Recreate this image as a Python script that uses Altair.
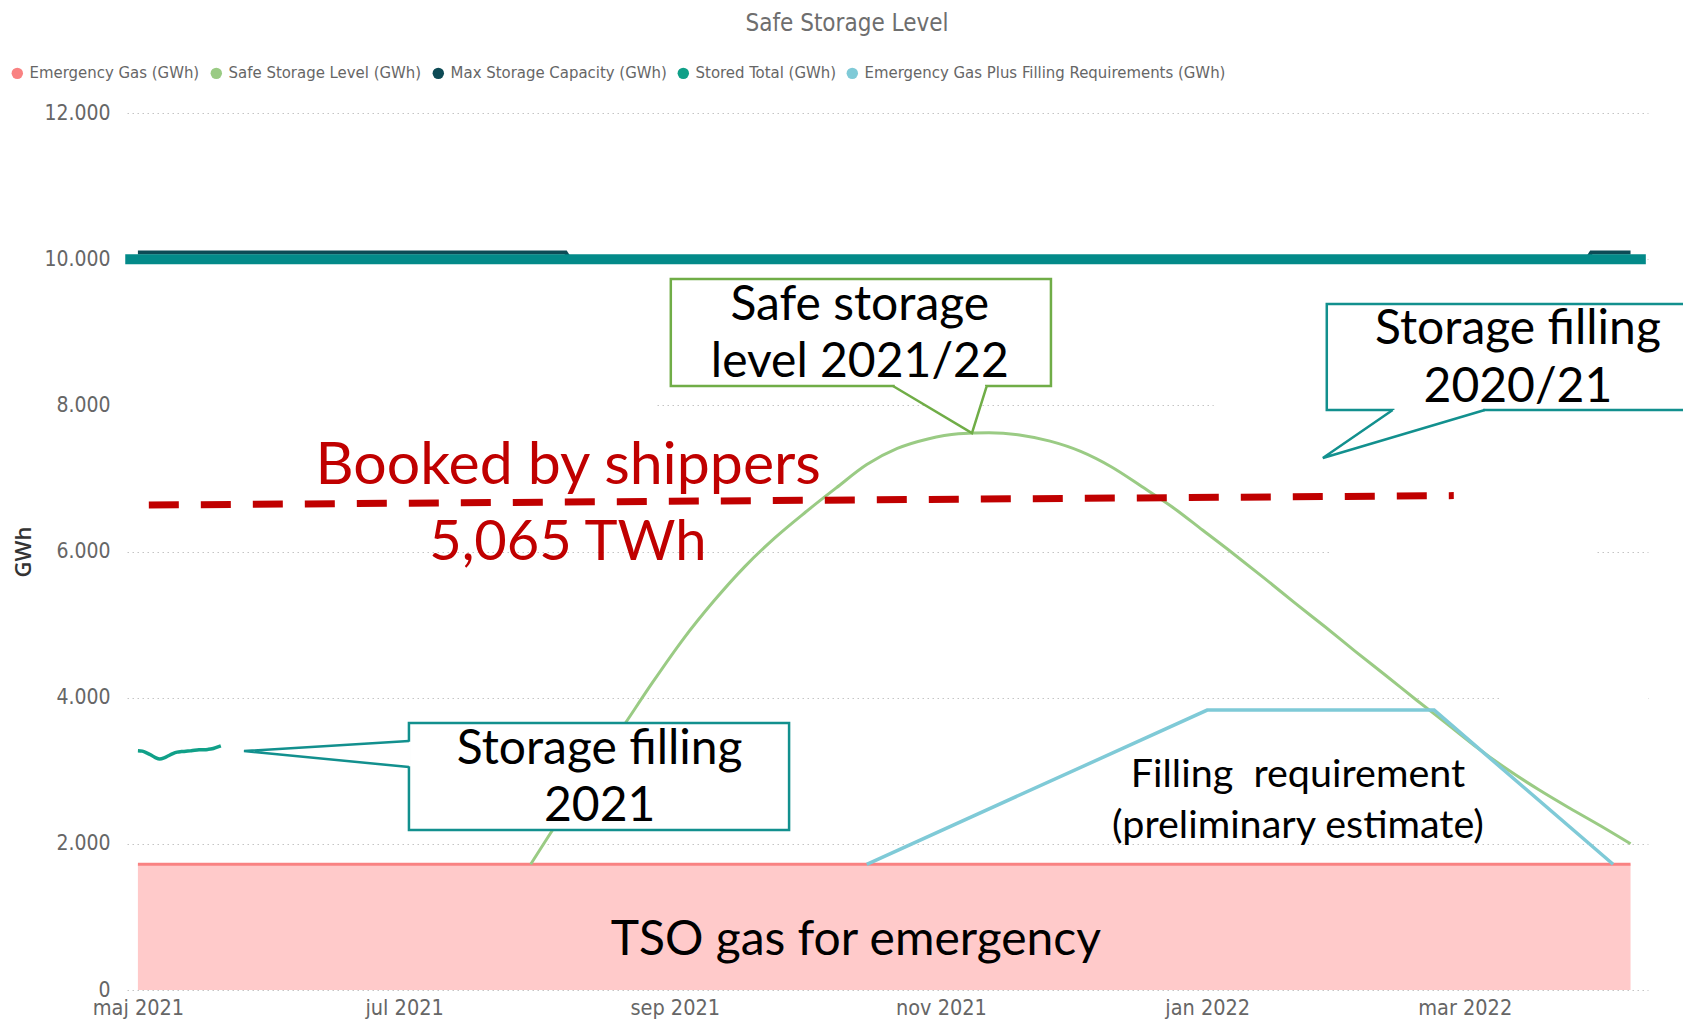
import altair as alt
import pandas as pd

BASE = pd.Timestamp("2021-05-01")


def iso(d):
    return (BASE + pd.Timedelta(days=float(d))).strftime("%Y-%m-%dT%H:%M:%SZ")


NARROW = "DejaVu Sans Condensed, Liberation Sans Narrow, sans-serif"
ANNO = "Lato, Carlito, Open Sans, sans-serif"

# ---------------- data ----------------
series_names = [
    "Emergency Gas (GWh)",
    "Safe Storage Level (GWh)",
    "Max Storage Capacity (GWh)",
    "Stored Total (GWh)",
    "Emergency Gas Plus Filling Requirements (GWh)",
]
series_colors = ["#F98282", "#9ACB84", "#0D4A55", "#10A088", "#7FCAD7"]

emergency_dates = ["2021-05-01", "2022-04-08"]
emergency_values = [1720, 1720]

safe_dates = [
    "2021-07-30", "2021-08-06", "2021-08-13", "2021-08-20", "2021-08-27",
    "2021-09-03", "2021-09-10", "2021-09-17", "2021-09-24", "2021-10-01",
    "2021-10-08", "2021-10-15", "2021-10-22", "2021-10-29", "2021-11-05",
    "2021-11-12", "2021-11-19", "2021-11-26", "2021-12-03", "2021-12-10",
    "2021-12-17", "2021-12-24", "2021-12-31", "2022-01-07", "2022-01-14",
    "2022-01-21", "2022-01-28", "2022-02-04", "2022-02-11", "2022-02-18",
    "2022-02-25", "2022-03-04", "2022-03-11", "2022-03-18", "2022-03-25",
    "2022-04-01", "2022-04-08",
]
safe_values = [
    1720, 2370, 2980, 3590, 4215,
    4805, 5325, 5790, 6190, 6540,
    6870, 7190, 7410, 7540, 7610,
    7625, 7595, 7510, 7370, 7160,
    6890, 6610, 6290, 5970, 5640,
    5300, 4970, 4630, 4300, 3965,
    3640, 3310, 3010, 2740, 2490,
    2250, 2000,
]

capacity_dates = ["2021-05-01", "2021-08-07", "2021-08-08", "2022-03-29", "2022-03-30", "2022-04-08"]
capacity_values = [10090, 10090, 10000, 10000, 10090, 10090]

stored_dates = [
    "2021-05-01", "2021-05-02", "2021-05-03", "2021-05-04", "2021-05-05",
    "2021-05-06", "2021-05-07", "2021-05-08", "2021-05-09", "2021-05-10",
    "2021-05-11", "2021-05-12", "2021-05-13", "2021-05-14", "2021-05-15",
    "2021-05-16", "2021-05-17", "2021-05-18", "2021-05-19", "2021-05-20",
]
stored_values = [
    3275, 3268, 3245, 3215, 3180,
    3160, 3175, 3205, 3235, 3255,
    3262, 3268, 3272, 3280, 3286,
    3288, 3292, 3300, 3320, 3340,
]

filling_dates = ["2021-10-15", "2022-01-01", "2022-02-22", "2022-04-04"]
filling_values = [1720, 3830, 3830, 1720]

booked_days = [2.5, 301.5]
booked_values = [6635, 6765]

capacity_band_days = [-2.9, 345.5]
capacity_band_value = 10000

tick_months = [(2021, 5), (2021, 7), (2021, 9), (2021, 11), (2022, 1), (2022, 3)]
y_ticks = [0, 2000, 4000, 6000, 8000, 10000, 12000]

chart_title = ["Safe Storage Level"]

# gridline segments hidden behind pasted white patches (days from 1 May 2021)
mask_start = [-2.5, 246.5, 273.6, 312.5]
mask_end = [118.7, 346.0, 334.3, 346.0]
mask_level = [8000, 8000, 6000, 4000]

# callout boxes (days, GWh)
box_left = [122.1, 272.4, 62.1]
box_right = [209.2, 400.0, 149.2]
box_bottom = [8265, 7936, 2189]
box_top = [9729, 9387, 3653]

# callout texts
callout_lines = ["Safe storage", "level 2021/22", "Storage filling", "2020/21", "Storage filling", "2021"]
callout_days = [165.4, 165.4, 316.2, 316.2, 105.8, 105.8]
callout_values = [9365, 8583, 9037, 8241, 3286, 2509]

note_lines = ["Filling\u00a0 requirement", "(preliminary estimate)"]
note_days = [265.8, 265.8]
note_values = [2942, 2240]

booked_title = ["Booked by shippers"]
booked_title_days = [98.6]
booked_title_values = [7176]
booked_amount = ["5,065 TWh"]
booked_amount_days = [98.5]
booked_amount_values = [6119]

tso_lines = ["TSO gas for emergency"]
tso_days = [164.5]
tso_values = [676]

# ---------------- scales / axes ----------------
XS = alt.Scale(
    type="utc",
    domain=[
        alt.DateTime(year=2021, month=4, date=28, hours=12, utc=True),
        alt.DateTime(year=2022, month=4, date=12, utc=True),
    ],
)
XA = alt.Axis(
    values=[alt.DateTime(year=y, month=m, date=1, utc=True) for y, m in tick_months],
    labelExpr="replace(lower(utcFormat(datum.value, '%b %Y')), 'may', 'maj')",
    grid=False, domain=False, ticks=False, tickSize=0,
    labelPadding=7, labelFont=NARROW, labelFontSize=21.5, labelColor="#666666",
    labelAngle=0, labelFlush=False, labelOverlap=False, title=None,
)
YS = alt.Scale(domain=[0, 12000], nice=False, zero=True)
YA = alt.Axis(
    values=y_ticks,
    labelExpr="replace(format(datum.value, ','), ',', '.')",
    grid=True, gridColor="#C4C4C4", gridDash=[1.5, 3.5], gridWidth=1,
    domain=False, ticks=False, tickSize=0,
    labelPadding=17, labelFont=NARROW, labelFontSize=21, labelColor="#666666",
    title="GWh", titleFont="Open Sans", titleFontSize=22, titleFontWeight=600,
    titleColor="#333333", titleX=-92, titleY=438.5, titleAngle=-90,
)


def xe(f):
    return alt.X(f, type="temporal", scale=XS, axis=XA)


def ye(f):
    return alt.Y(f, type="quantitative", scale=YS, axis=YA)


# ---------------- layers ----------------
mask_df = pd.DataFrame({
    "xs": [iso(d) for d in mask_start], "xe": [iso(d) for d in mask_end],
    "lo": [v - 70 for v in mask_level], "hi": [v + 70 for v in mask_level],
})
mask = alt.Chart(mask_df).mark_rect(color="white").encode(
    x=xe("xs"), x2=alt.X2("xe"), y=ye("lo"), y2=alt.Y2("hi"))

em_df = pd.DataFrame({"date": emergency_dates, "v": emergency_values})
em_area = alt.Chart(em_df).mark_area(color="#FFCACA", opacity=1).encode(x=xe("date"), y=ye("v"))
em_line = alt.Chart(em_df).mark_line(color=series_colors[0], strokeWidth=3).encode(x=xe("date"), y=ye("v"))

safe_df = pd.DataFrame({"date": safe_dates, "v": safe_values})
safe_line = alt.Chart(safe_df).mark_line(color=series_colors[1], strokeWidth=3, interpolate="monotone").encode(
    x=xe("date"), y=ye("v"))

fill_df = pd.DataFrame({"date": filling_dates, "v": filling_values})
fill_line = alt.Chart(fill_df).mark_line(color=series_colors[4], strokeWidth=3.5).encode(x=xe("date"), y=ye("v"))

stored_df = pd.DataFrame({"date": stored_dates, "v": stored_values})
stored_line = alt.Chart(stored_df).mark_line(color=series_colors[3], strokeWidth=3.5, interpolate="monotone").encode(
    x=xe("date"), y=ye("v"))

cap_df = pd.DataFrame({"date": capacity_dates, "v": capacity_values})
cap_line = alt.Chart(cap_df).mark_line(color=series_colors[2], strokeWidth=4).encode(x=xe("date"), y=ye("v"))

band_df = pd.DataFrame({"xs": [iso(capacity_band_days[0])], "xe": [iso(capacity_band_days[1])], "v": [capacity_band_value]})
band = alt.Chart(band_df).mark_rule(color="#038A89", strokeWidth=10).encode(x=xe("xs"), x2=alt.X2("xe"), y=ye("v"))

booked_df = pd.DataFrame({"date": [iso(d) for d in booked_days], "v": booked_values})
booked = alt.Chart(booked_df).mark_line(color="#C00000", strokeWidth=7, strokeDash=[30, 22], strokeCap="butt").encode(
    x=xe("date"), y=ye("v"))

box_df = pd.DataFrame({
    "xs": [iso(d) for d in box_left], "xe": [iso(d) for d in box_right],
    "lo": box_bottom, "hi": box_top,
})
box_green = alt.Chart(box_df.iloc[[0]]).mark_rect(fill="white", stroke="#70AD47", strokeWidth=2.5).encode(
    x=xe("xs"), x2=alt.X2("xe"), y=ye("lo"), y2=alt.Y2("hi"))
box_teal = alt.Chart(box_df.iloc[[1, 2]]).mark_rect(fill="white", stroke="#12908E", strokeWidth=2.5).encode(
    x=xe("xs"), x2=alt.X2("xe"), y=ye("lo"), y2=alt.Y2("hi"))

# pointer triangles: (base a, tip, base b)
p1 = [(173.0, 8265), (191.1, 7621), (194.5, 8265)]
p2 = [(287.5, 7936), (271.5, 7280), (308.6, 7936)]
p3 = [(62.1, 3407), (24.3, 3270), (62.1, 3051)]

pa1 = pd.DataFrame({"date": [iso(p[0]) for p in p1], "lo": [p[1] for p in p1], "hi": [p1[0][1]] * 3})
t_on_tb = p2[1][1] + (p2[0][0] - p2[1][0]) / (p2[2][0] - p2[1][0]) * (p2[2][1] - p2[1][1])
pa2 = pd.DataFrame({"date": [iso(p2[1][0]), iso(p2[0][0]), iso(p2[2][0])],
                    "lo": [p2[1][1], t_on_tb, p2[2][1]], "hi": [p2[1][1], p2[0][1], p2[2][1]]})
pa3 = pd.DataFrame({"v": [p[1] for p in p3], "xa": [iso(p[0]) for p in p3], "xb": [iso(p3[0][0])] * 3})
fill1 = alt.Chart(pa1).mark_area(color="white", opacity=1).encode(x=xe("date"), y=ye("lo"), y2=alt.Y2("hi"))
fill2 = alt.Chart(pa2).mark_area(color="white", opacity=1).encode(x=xe("date"), y=ye("lo"), y2=alt.Y2("hi"))
fill3 = alt.Chart(pa3).mark_area(color="white", opacity=1, orient="horizontal").encode(
    y=ye("v"), x=xe("xa"), x2=alt.X2("xb"))

gap_df = pd.DataFrame({
    "xs": [iso(p1[0][0] + 0.4), iso(p2[0][0] + 0.4)],
    "xe": [iso(p1[2][0] - 0.4), iso(p2[2][0] - 0.4)],
    "v": [p1[0][1], p2[0][1]],
})
gaps_h = alt.Chart(gap_df).mark_rule(color="white", strokeWidth=4).encode(x=xe("xs"), x2=alt.X2("xe"), y=ye("v"))
gap_v_df = pd.DataFrame({"x": [iso(p3[0][0])], "a": [p3[0][1] - 10], "b": [p3[2][1] + 10]})
gaps_v = alt.Chart(gap_v_df).mark_rule(color="white", strokeWidth=4).encode(x=xe("x"), y=ye("a"), y2=alt.Y2("b"))


def pointer_df(pts, pid):
    return pd.DataFrame({"date": [iso(p[0]) for p in pts], "v": [p[1] for p in pts], "o": [0, 1, 2], "id": [pid] * 3})


ptr_green = alt.Chart(pointer_df(p1, "a")).mark_line(color="#70AD47", strokeWidth=2.5).encode(
    x=xe("date"), y=ye("v"), order="o:Q")
ptr_teal = alt.Chart(pd.concat([pointer_df(p2, "b"), pointer_df(p3, "c")])).mark_line(
    color="#12908E", strokeWidth=2.5).encode(x=xe("date"), y=ye("v"), order="o:Q", detail="id:N")


def text_layer(lines, days, values, size, color):
    df = pd.DataFrame({"t": lines, "date": [iso(d) for d in days], "v": values})
    return alt.Chart(df).mark_text(font=ANNO, fontSize=size, color=color, align="center", baseline="middle").encode(
        x=xe("date"), y=ye("v"), text="t:N")


txt_callout = text_layer(callout_lines, callout_days, callout_values, 48, "#000000")
txt_note = text_layer(note_lines, note_days, note_values, 39.5, "#000000")
txt_booked1 = text_layer(booked_title, booked_title_days, booked_title_values, 59, "#C00000")
txt_booked2 = text_layer(booked_amount, booked_amount_days, booked_amount_values, 56, "#C00000")
txt_tso = text_layer(tso_lines, tso_days, tso_values, 48, "#000000")

title_layer = alt.Chart(pd.DataFrame({"t": chart_title})).mark_text(
    font=NARROW, fontSize=24, color="#6E6E6E", align="center", baseline="middle"
).encode(x=alt.value(720), y=alt.value(-89), text="t:N")

legend_df = pd.DataFrame({"s": series_names, "date": ["2021-05-01"] * 5, "v": [0] * 5})
legend_layer = alt.Chart(legend_df).mark_circle(opacity=0, size=10).encode(
    x=xe("date"), y=ye("v"),
    color=alt.Color("s:N", scale=alt.Scale(domain=series_names, range=series_colors),
                    legend=alt.Legend(orient="none", legendX=-118, legendY=-48, direction="horizontal",
                                      title=None, labelFont=NARROW, labelFontSize=16.6, labelColor="#666666",
                                      symbolType="circle", symbolSize=130, symbolOpacity=1,
                                      symbolStrokeWidth=0, columnPadding=8, labelOffset=4,
                                      labelLimit=600, padding=0)),
)

chart = alt.layer(
    mask, em_area, em_line, safe_line, fill_line, stored_line, cap_line, band, booked,
    box_green, box_teal, fill1, fill2, fill3, gaps_h, gaps_v, ptr_green, ptr_teal,
    txt_callout, txt_note, txt_booked1, txt_booked2, txt_tso, title_layer, legend_layer,
).properties(
    width=1521, height=877,
    padding={"left": 119, "top": 105, "right": 35, "bottom": 29},
    autosize=alt.AutoSizeParams(type="none"),
).configure_view(stroke=None)

chart.save("out.html", embed_options={"renderer": "svg", "actions": False})
